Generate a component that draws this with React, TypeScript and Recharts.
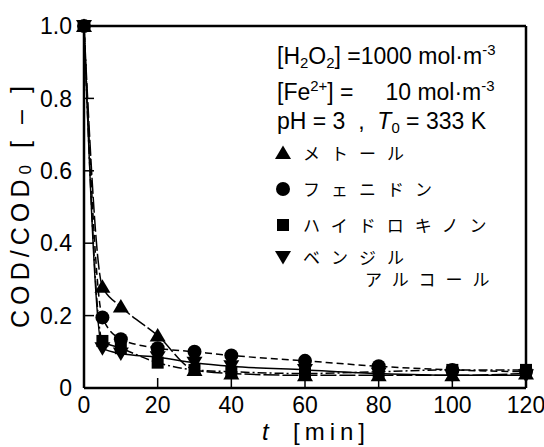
import React from 'react'
import { LineChart, Line, XAxis, YAxis, Legend } from 'recharts'

// reaction time [min]
const times = [0, 5, 10, 20, 30, 40, 60, 80, 100, 120]

// COD/COD0
const metolValues = [1.0, 0.28, 0.225, 0.145, 0.05, 0.04, 0.035, 0.035, 0.035, 0.04]
const phenidoneValues = [1.0, 0.195, 0.135, 0.11, 0.1, 0.09, 0.075, 0.06, 0.05, 0.045]
const hydroquinoneValues = [1.0, 0.13, 0.11, 0.07, 0.05, 0.045, 0.04, 0.045, 0.05, 0.05]
const benzylValues = [1.0, 0.11, 0.095, 0.085, 0.07, 0.06, 0.05, 0.04, 0.035, 0.035]

const seriesNames = ['メトール', 'フェニドン', 'ハイドロキノン', 'ベンジル', 'アルコール']
const xTicks = [0, 20, 40, 60, 80, 100, 120]
const yTicks = [0, 0.2, 0.4, 0.6, 0.8, 1.0]

const FONT = '"Liberation Sans", Arial, sans-serif'
const JP = '"Noto Sans CJK JP", sans-serif'

type Shape = 'up' | 'circle' | 'square' | 'down'

const data = times.map((t, i) => ({
    t,
    metol: metolValues[i],
    phenidone: phenidoneValues[i],
    hydroquinone: hydroquinoneValues[i],
    benzyl: benzylValues[i],
}))

function Marker({ shape, cx, cy }: { shape: Shape; cx: number; cy: number }) {
    if (shape === 'up') return <polygon points={`${cx},${cy - 7.5} ${cx + 8},${cy + 6} ${cx - 8},${cy + 6}`} fill="#000" />
    if (shape === 'down') return <polygon points={`${cx},${cy + 7.5} ${cx + 8},${cy - 6} ${cx - 8},${cy - 6}`} fill="#000" />
    if (shape === 'square') return <rect x={cx - 6} y={cy - 6} width={12} height={12} fill="#000" />
    return <circle cx={cx} cy={cy} r={7} fill="#000" />
}

const dotFor = (shape: Shape) => (p: any) => (
    <g key={p.index}>{p.cx != null && <Marker shape={shape} cx={p.cx} cy={p.cy} />}</g>
)

// draw order: square last so the t=0 point shows a square like the original
const series: { key: string; shape: Shape; dash: string }[] = [
    { key: 'metol', shape: 'up', dash: '16 3' },
    { key: 'phenidone', shape: 'circle', dash: '7 4' },
    { key: 'benzyl', shape: 'down', dash: '' },
    { key: 'hydroquinone', shape: 'square', dash: '9 3 2 3' },
]

const legendShapes: Shape[] = ['up', 'circle', 'square', 'down']
const legendRowTops = [0, 36, 72, 104]

function LegendBox() {
    return (
        <div style={{ position: 'relative', width: 260, height: 150, fontFamily: JP, fontSize: 17, color: '#000' }}>
            {legendShapes.map((shape, i) => (
                <div key={shape} style={{ position: 'absolute', left: 0, top: legendRowTops[i], height: 24, lineHeight: '24px', whiteSpace: 'nowrap' }}>
                    <svg width={18} height={24} style={{ position: 'absolute', left: 0, top: 0 }}>
                        <Marker shape={shape} cx={9} cy={12} />
                    </svg>
                    <span style={{ position: 'absolute', left: 29, letterSpacing: 11 }}>{seriesNames[i]}</span>
                </div>
            ))}
            <div style={{ position: 'absolute', left: 91, top: 126, lineHeight: '24px', letterSpacing: 10, whiteSpace: 'nowrap' }}>
                {seriesNames[4]}
            </div>
        </div>
    )
}

function YLabel(props: any) {
    const { viewBox } = props
    const cx = viewBox.x + 20
    const cy = viewBox.y + viewBox.height / 2
    return (
        <text
            x={cx}
            y={cy}
            transform={`rotate(-90 ${cx} ${cy})`}
            textAnchor="middle"
            dominantBaseline="central"
            fontFamily={FONT}
            fontSize={25}
            fill="#000"
            textLength={242}
            lengthAdjust="spacing"
        >
            COD/COD<tspan fontSize={17} dy={5}>0</tspan>
            <tspan dy={-5}> [ – ]</tspan>
        </text>
    )
}

function XLabel(props: any) {
    const { viewBox } = props
    const y = viewBox.y + 52
    return (
        <text y={y} fontFamily={FONT} fontSize={24} fill="#000">
            <tspan x={viewBox.x + 178} fontStyle="italic">t</tspan>
            <tspan x={viewBox.x + 209} letterSpacing={5}>[min]</tspan>
        </text>
    )
}

const sub = { fontSize: '0.65em', verticalAlign: '-0.25em' }
const sup = { fontSize: '0.65em', verticalAlign: '0.6em' }

export default function App() {
    const tickStyle = { fill: '#000', fontSize: 23, fontFamily: FONT }
    return (
        <div style={{ position: 'absolute', left: 0, top: 0, width: 544, height: 447, background: '#fff' }}>
            <LineChart width={544} height={447} data={data} margin={{ top: 25, right: 17, left: 0, bottom: 0 }}>
                <XAxis
                    dataKey="t"
                    type="number"
                    domain={[0, 120]}
                    ticks={xTicks}
                    height={59}
                    stroke="#000"
                    strokeWidth={2.5}
                    tickSize={-10}
                    tickMargin={19}
                    tick={tickStyle}
                    tickLine={{ stroke: '#000', strokeWidth: 1.5 }}
                    label={<XLabel />}
                />
                <XAxis
                    xAxisId="top"
                    orientation="top"
                    type="number"
                    domain={[0, 120]}
                    ticks={xTicks}
                    height={1}
                    stroke="#000"
                    strokeWidth={2.5}
                    tickSize={-10}
                    tick={false}
                    tickLine={{ stroke: '#000', strokeWidth: 1.5 }}
                />
                <YAxis
                    type="number"
                    domain={[0, 1]}
                    ticks={yTicks}
                    width={84}
                    stroke="#000"
                    strokeWidth={2.5}
                    tickSize={-10}
                    tickMargin={22}
                    tick={tickStyle}
                    tickFormatter={(v: number) => (v === 0 ? '0' : v.toFixed(1))}
                    tickLine={{ stroke: '#000', strokeWidth: 1.5 }}
                    label={<YLabel />}
                />
                <YAxis
                    yAxisId="right"
                    orientation="right"
                    type="number"
                    domain={[0, 1]}
                    ticks={yTicks}
                    width={1}
                    stroke="#000"
                    strokeWidth={2.5}
                    tickSize={-10}
                    tick={false}
                    tickLine={{ stroke: '#000', strokeWidth: 1.5 }}
                />
                {series.map(s => (
                    <Line
                        key={s.key}
                        dataKey={s.key}
                        type="monotone"
                        stroke="#000"
                        strokeWidth={1.5}
                        strokeDasharray={s.dash || undefined}
                        dot={dotFor(s.shape)}
                        activeDot={false}
                        isAnimationActive={false}
                    />
                ))}
                <Legend
                    verticalAlign="middle"
                    align="center"
                    layout="horizontal"
                    content={() => <LegendBox />}
                    wrapperStyle={{ left: 274, top: 141, width: 260, height: 150 }}
                />
            </LineChart>
            <div style={{ position: 'absolute', left: 277, top: 0, fontFamily: FONT, fontSize: 23, color: '#000', whiteSpace: 'pre', lineHeight: '24px' }}>
                <div style={{ position: 'absolute', top: 38 }}>
                    [H<span style={sub}>2</span>O<span style={sub}>2</span>] =1000 mol·m<span style={sup}>-3</span>
                </div>
                <div style={{ position: 'absolute', top: 74 }}>
                    [Fe<span style={sup}>2+</span>] =     10 mol·m<span style={sup}>-3</span>
                </div>
                <div style={{ position: 'absolute', top: 109 }}>
                    pH = 3  ,  <i>T</i><span style={sub}>0</span> = 333 K
                </div>
            </div>
        </div>
    )
}
